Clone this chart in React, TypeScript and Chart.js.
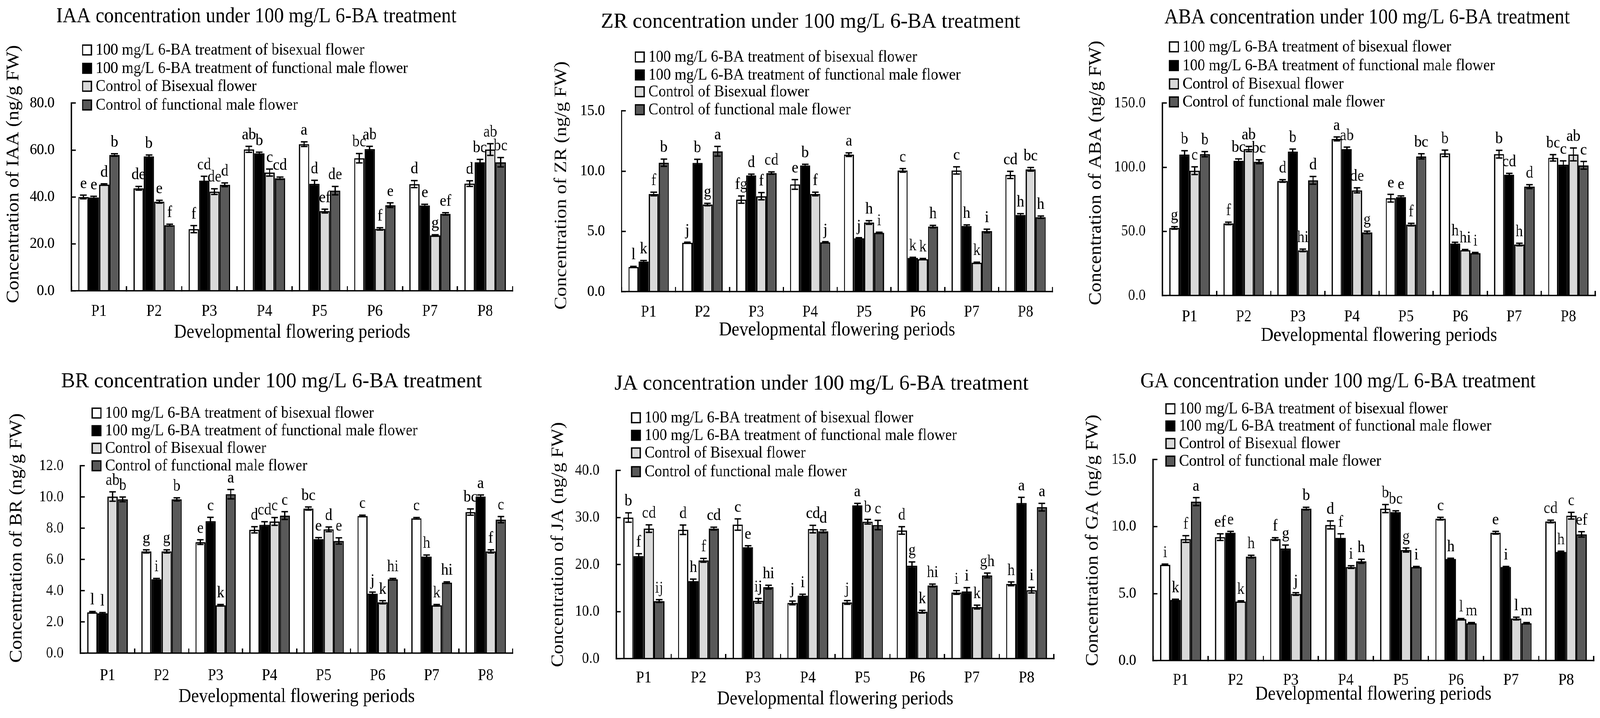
import React, { useEffect, useRef } from 'react';
import { Chart, registerables } from 'chart.js';

Chart.register(...registerables);

const FONT = "'Liberation Serif', 'Times New Roman', serif";
Chart.defaults.font.family = FONT;
Chart.defaults.color = '#000';

// ---------- shared categories / series ----------
const PERIODS = ['P1', 'P2', 'P3', 'P4', 'P5', 'P6', 'P7', 'P8'];
const SERIES_LABELS = [
  '100 mg/L 6-BA treatment of bisexual flower',
  '100 mg/L 6-BA treatment of functional male flower',
  'Control of Bisexual flower',
  'Control of functional male flower',
];
const SERIES_COLORS = ['#ffffff', '#000000', '#d9d9d9', '#595959'];
const X_TITLE = 'Developmental flowering periods';

// ---------- IAA ----------
const IAA_MEANS = [
  [40.0, 43.7, 26.3, 60.3, 62.5, 56.5, 45.5, 45.7],
  [39.8, 57.3, 47.0, 58.6, 45.6, 60.4, 36.4, 54.8],
  [45.3, 38.0, 42.3, 50.4, 34.0, 26.4, 23.6, 60.2],
  [57.9, 28.0, 45.2, 48.0, 42.7, 36.5, 32.8, 54.8],
];
const IAA_ERRORS = [
  [0.8, 0.8, 1.5, 1.3, 1.0, 2.0, 1.5, 1.2],
  [0.5, 0.6, 1.8, 0.5, 1.5, 1.2, 0.5, 1.2],
  [0.3, 0.6, 1.2, 1.5, 0.8, 0.5, 0.3, 2.5],
  [0.5, 0.4, 0.8, 0.5, 1.8, 1.0, 0.5, 2.0],
];
const IAA_LETTERS = [
  ['e', 'de', 'f', 'ab', 'a', 'bc', 'd', 'd'],
  ['e', 'b', 'cd', 'b', 'd', 'ab', 'e', 'bc'],
  ['d', 'e', 'de', 'c', 'ef', 'f', 'g', 'ab'],
  ['b', 'f', 'd', 'cd', 'de', 'e', 'ef', 'bc'],
];
const IAA_Y_MAX = 80;
const IAA_Y_STEP = 20;

// ---------- ZR ----------
const ZR_MEANS = [
  [2.05, 4.06, 7.64, 8.90, 11.37, 10.06, 10.06, 9.69],
  [2.50, 10.68, 9.65, 10.47, 4.43, 2.80, 5.44, 6.37],
  [8.10, 7.23, 7.92, 8.10, 5.74, 2.70, 2.40, 10.15],
  [10.70, 11.65, 9.84, 4.10, 4.88, 5.40, 5.03, 6.18],
];
const ZR_ERRORS = [
  [0.05, 0.05, 0.3, 0.4, 0.15, 0.15, 0.3, 0.3],
  [0.08, 0.3, 0.1, 0.1, 0.05, 0.05, 0.1, 0.1],
  [0.15, 0.1, 0.3, 0.15, 0.15, 0.05, 0.05, 0.15],
  [0.3, 0.4, 0.1, 0.05, 0.05, 0.1, 0.15, 0.1],
];
const ZR_LETTERS = [
  ['l', 'j', 'fg', 'e', 'a', 'c', 'c', 'cd'],
  ['k', 'b', 'd', 'b', 'j', 'k', 'h', 'h'],
  ['f', 'g', 'f', 'f', 'h', 'k', 'k', 'bc'],
  ['b', 'a', 'cd', 'j', 'i', 'h', 'i', 'h'],
];
const ZR_Y_MAX = 15;
const ZR_Y_STEP = 5;

// ---------- ABA ----------
const ABA_MEANS = [
  [52.7, 56.2, 89.3, 122.1, 75.9, 110.8, 110.2, 107.3],
  [109.9, 105.0, 112.2, 114.2, 76.7, 40.5, 94.2, 102.0],
  [97.3, 114.2, 35.2, 82.0, 55.3, 35.4, 39.8, 110.0],
  [110.2, 104.3, 89.8, 49.2, 108.5, 33.1, 84.9, 101.5],
];
const ABA_ERRORS = [
  [1.0, 1.0, 1.0, 1.5, 3.0, 2.5, 3.0, 2.5],
  [3.0, 1.5, 2.0, 1.5, 1.0, 1.0, 1.0, 3.0],
  [3.0, 2.0, 1.0, 2.0, 1.0, 0.5, 1.0, 5.0],
  [2.0, 1.5, 3.0, 1.0, 2.0, 0.5, 1.5, 3.0],
];
const ABA_LETTERS = [
  ['g', 'f', 'd', 'a', 'e', 'b', 'b', 'bc'],
  ['b', 'bc', 'b', 'ab', 'e', 'h', 'cd', 'c'],
  ['c', 'ab', 'hi', 'de', 'f', 'hi', 'h', 'ab'],
  ['b', 'bc', 'd', 'g', 'bc', 'i', 'd', 'c'],
];
const ABA_Y_MAX = 150;
const ABA_Y_STEP = 50;

// ---------- BR ----------
const BR_MEANS = [
  [2.62, 6.52, 7.11, 7.90, 9.26, 8.79, 8.64, 9.04],
  [2.55, 4.74, 8.45, 8.22, 7.30, 3.81, 6.19, 10.03],
  [10.03, 6.52, 3.07, 8.44, 7.93, 3.26, 3.07, 6.52],
  [9.85, 9.85, 10.18, 8.81, 7.19, 4.74, 4.52, 8.55],
];
const BR_ERRORS = [
  [0.05, 0.1, 0.15, 0.2, 0.1, 0.05, 0.05, 0.2],
  [0.05, 0.05, 0.25, 0.2, 0.1, 0.1, 0.1, 0.1],
  [0.3, 0.1, 0.05, 0.25, 0.15, 0.1, 0.05, 0.1],
  [0.15, 0.1, 0.3, 0.25, 0.2, 0.05, 0.05, 0.2],
];
const BR_LETTERS = [
  ['l', 'g', 'e', 'd', 'bc', 'c', 'c', 'bc'],
  ['l', 'i', 'c', 'cd', 'e', 'j', 'h', 'a'],
  ['ab', 'g', 'k', 'c', 'd', 'k', 'k', 'f'],
  ['b', 'b', 'a', 'c', 'e', 'hi', 'hi', 'c'],
];
const BR_Y_MAX = 12;
const BR_Y_STEP = 2;

// ---------- JA ----------
const JA_MEANS = [
  [30.0, 27.4, 28.5, 11.85, 11.95, 27.26, 14.07, 15.9],
  [21.8, 16.5, 23.7, 13.4, 32.6, 19.75, 14.3, 33.1],
  [27.65, 20.9, 12.3, 27.55, 29.1, 9.98, 10.96, 14.57],
  [12.25, 27.65, 15.2, 27.06, 28.4, 15.56, 17.7, 32.2],
];
const JA_ERRORS = [
  [1.0, 1.0, 1.2, 0.4, 0.4, 0.8, 0.4, 0.4],
  [0.5, 0.4, 0.3, 0.3, 0.4, 0.8, 0.8, 1.2],
  [0.8, 0.4, 0.5, 0.8, 0.5, 0.3, 0.4, 0.6],
  [0.3, 0.3, 0.4, 0.3, 1.0, 0.3, 0.5, 0.8],
];
const JA_LETTERS = [
  ['b', 'd', 'c', 'j', 'j', 'd', 'i', 'h'],
  ['f', 'h', 'e', 'i', 'a', 'g', 'i', 'a'],
  ['cd', 'f', 'ij', 'cd', 'b', 'k', 'k', 'i'],
  ['ij', 'cd', 'hi', 'd', 'c', 'hi', 'gh', 'a'],
];
const JA_Y_MAX = 40;
const JA_Y_STEP = 10;

// ---------- GA ----------
const GA_MEANS = [
  [7.15, 9.21, 9.07, 10.12, 11.34, 10.59, 9.54, 10.38],
  [4.53, 9.54, 8.37, 9.16, 11.08, 7.59, 6.98, 8.11],
  [9.07, 4.41, 4.97, 6.98, 8.25, 3.09, 3.14, 10.81],
  [11.86, 7.76, 11.34, 7.41, 6.98, 2.79, 2.79, 9.42],
];
const GA_ERRORS = [
  [0.05, 0.25, 0.1, 0.3, 0.3, 0.1, 0.1, 0.1],
  [0.05, 0.1, 0.25, 0.3, 0.1, 0.05, 0.05, 0.05],
  [0.25, 0.05, 0.1, 0.1, 0.15, 0.05, 0.1, 0.25],
  [0.3, 0.1, 0.1, 0.15, 0.05, 0.05, 0.05, 0.2],
];
const GA_LETTERS = [
  ['i', 'ef', 'f', 'd', 'b', 'c', 'e', 'cd'],
  ['k', 'e', 'g', 'f', 'bc', 'h', 'i', 'h'],
  ['f', 'k', 'j', 'i', 'g', 'l', 'l', 'c'],
  ['a', 'h', 'b', 'h', 'i', 'm', 'm', 'ef'],
];
const GA_Y_MAX = 15;
const GA_Y_STEP = 5;

// ---------- layout (design pixels, 4550 x 1839) ----------
const DESIGN_W = 4550;
const DESIGN_H = 1839;

type Rect = { x: number; y: number; w: number; h: number };
type PanelCfg = {
  key: string;
  hormone: string;
  means: number[][];
  errors: number[][];
  letters: string[][];
  yMax: number;
  yStep: number;
  box: Rect;
  area: { l: number; t: number; r: number; b: number };
  titleSpan: { x: number; y: number; w: number };
  legend: { x: number; rows: number[] };
  yTitle: { x: number; y: number };
  xTitleY: number;
  catY: number;
};

const PANELS: PanelCfg[] = [
  {
    key: 'iaa', hormone: 'IAA', means: IAA_MEANS, errors: IAA_ERRORS, letters: IAA_LETTERS,
    yMax: IAA_Y_MAX, yStep: IAA_Y_STEP,
    box: { x: 0, y: 0, w: 1515, h: 905 },
    area: { l: 203, t: 264, r: 1458, b: 745 },
    titleSpan: { x: 160, y: 43, w: 1138 },
    legend: { x: 235, rows: [128, 175, 221, 269] },
    yTitle: { x: 39, y: 446 },
    xTitleY: 852, catY: 798,
  },
  {
    key: 'zr', hormone: 'ZR', means: ZR_MEANS, errors: ZR_ERRORS, letters: ZR_LETTERS,
    yMax: ZR_Y_MAX, yStep: ZR_Y_STEP,
    box: { x: 1515, y: 0, w: 1505, h: 905 },
    area: { l: 1768, t: 284, r: 2993, b: 747 },
    titleSpan: { x: 1709, y: 57, w: 1192 },
    legend: { x: 1807, rows: [146, 192, 235, 281] },
    yTitle: { x: 1597, y: 475 },
    xTitleY: 846, catY: 800,
  },
  {
    key: 'aba', hormone: 'ABA', means: ABA_MEANS, errors: ABA_ERRORS, letters: ABA_LETTERS,
    yMax: ABA_Y_MAX, yStep: ABA_Y_STEP,
    box: { x: 3020, y: 0, w: 1530, h: 905 },
    area: { l: 3306, t: 264, r: 4537, b: 757 },
    titleSpan: { x: 3311, y: 46, w: 1153 },
    legend: { x: 3326, rows: [120, 168, 215, 261] },
    yTitle: { x: 3117, y: 443 },
    xTitleY: 860, catY: 812,
  },
  {
    key: 'br', hormone: 'BR', means: BR_MEANS, errors: BR_ERRORS, letters: BR_LETTERS,
    yMax: BR_Y_MAX, yStep: BR_Y_STEP,
    box: { x: 0, y: 905, w: 1515, h: 934 },
    area: { l: 229, t: 1193, r: 1458, b: 1673 },
    titleSpan: { x: 174, y: 978, w: 1197 },
    legend: { x: 262, rows: [1058, 1103, 1148, 1193] },
    yTitle: { x: 48, y: 1378 },
    xTitleY: 1785, catY: 1731,
  },
  {
    key: 'ja', hormone: 'JA', means: JA_MEANS, errors: JA_ERRORS, letters: JA_LETTERS,
    yMax: JA_Y_MAX, yStep: JA_Y_STEP,
    box: { x: 1515, y: 905, w: 1505, h: 934 },
    area: { l: 1753, t: 1205, r: 2997, b: 1687 },
    titleSpan: { x: 1748, y: 984, w: 1177 },
    legend: { x: 1796, rows: [1070, 1115, 1160, 1208] },
    yTitle: { x: 1588, y: 1395 },
    xTitleY: 1791, catY: 1737,
  },
  {
    key: 'ga', hormone: 'GA', means: GA_MEANS, errors: GA_ERRORS, letters: GA_LETTERS,
    yMax: GA_Y_MAX, yStep: GA_Y_STEP,
    box: { x: 3020, y: 905, w: 1530, h: 934 },
    area: { l: 3279, t: 1177, r: 4532, b: 1692 },
    titleSpan: { x: 3243, y: 978, w: 1124 },
    legend: { x: 3316, rows: [1047, 1091, 1136, 1181] },
    yTitle: { x: 3108, y: 1384 },
    xTitleY: 1779, catY: 1743,
  },
];

const TICK_SIZE = 40;
const CAT_SIZE = 42;
const AXIS_TITLE_SIZE = 50;
const TITLE_SIZE = 55;
const LEGEND_SIZE = 42;
const LEGEND_TEXT_WIDTH = 888;
const LEGEND_BOX = 25;
const LETTER_SIZE = 42;
const TICK_LEN = -12;
const LINE_W = 3.5;

function makeDecor(cfg: PanelCfg) {
  const { box } = cfg;
  return {
    id: 'decor_' + cfg.key,
    afterDatasetsDraw(chart: any) {
      const ctx: CanvasRenderingContext2D = chart.ctx;
      const yScale = chart.scales.y;
      ctx.save();
      ctx.strokeStyle = '#000';
      ctx.fillStyle = '#000';
      ctx.lineWidth = LINE_W;
      // error bars (mean ± error)
      chart.data.datasets.forEach((_ds: any, i: number) => {
        const meta = chart.getDatasetMeta(i);
        meta.data.forEach((el: any, j: number) => {
          const v = cfg.means[i][j];
          const e = cfg.errors[i][j];
          const p = el.getProps(['x', 'width'], true);
          const yt = yScale.getPixelForValue(v + e);
          const yb = yScale.getPixelForValue(v - e);
          const cw = p.width * 0.65;
          ctx.beginPath();
          ctx.moveTo(p.x, yb);
          ctx.lineTo(p.x, yt);
          ctx.moveTo(p.x - cw / 2, yt);
          ctx.lineTo(p.x + cw / 2, yt);
          ctx.moveTo(p.x - cw / 2, yb);
          ctx.lineTo(p.x + cw / 2, yb);
          ctx.stroke();
        });
      });
      // significance letters
      ctx.font = `${LETTER_SIZE}px ${FONT}`;
      ctx.textAlign = 'center';
      ctx.textBaseline = 'alphabetic';
      chart.data.datasets.forEach((_ds: any, i: number) => {
        const meta = chart.getDatasetMeta(i);
        meta.data.forEach((el: any, j: number) => {
          const v = cfg.means[i][j];
          const e = cfg.errors[i][j];
          const p = el.getProps(['x'], true);
          const yt = yScale.getPixelForValue(v + e);
          ctx.fillText(cfg.letters[i][j], p.x, yt - 18);
        });
      });
      ctx.restore();
    },
    afterDraw(chart: any) {
      const ctx: CanvasRenderingContext2D = chart.ctx;
      ctx.save();
      ctx.fillStyle = '#000';
      // chart title
      const title = `${cfg.hormone} concentration under 100 mg/L 6-BA treatment`;
      ctx.font = `${TITLE_SIZE}px ${FONT}`;
      ctx.textAlign = 'left';
      ctx.textBaseline = 'middle';
      const tw = ctx.measureText(title).width;
      ctx.save();
      ctx.translate(cfg.titleSpan.x - box.x, cfg.titleSpan.y - box.y);
      ctx.scale(cfg.titleSpan.w / tw, 1);
      ctx.fillText(title, 0, 0);
      ctx.restore();
      // legend
      ctx.font = `${LEGEND_SIZE}px ${FONT}`;
      const labels: string[] = chart.data.datasets.map((d: any) => d.label);
      const longest = Math.max(...labels.map((l) => ctx.measureText(l).width));
      const sx = LEGEND_TEXT_WIDTH / longest;
      chart.data.datasets.forEach((d: any, i: number) => {
        const ry = cfg.legend.rows[i] - box.y;
        const lx = cfg.legend.x - box.x;
        ctx.fillStyle = d.backgroundColor;
        ctx.fillRect(lx, ry - LEGEND_BOX / 2, LEGEND_BOX, LEGEND_BOX);
        ctx.strokeStyle = '#000';
        ctx.lineWidth = LINE_W;
        ctx.strokeRect(lx, ry - LEGEND_BOX / 2, LEGEND_BOX, LEGEND_BOX);
        ctx.fillStyle = '#000';
        ctx.save();
        ctx.translate(lx + 37, ry + 1);
        ctx.scale(sx, 1);
        ctx.fillText(d.label, 0, 0);
        ctx.restore();
      });
      // y axis title
      ctx.font = `${AXIS_TITLE_SIZE}px ${FONT}`;
      ctx.textAlign = 'center';
      ctx.textBaseline = 'middle';
      ctx.translate(cfg.yTitle.x - box.x, cfg.yTitle.y - box.y);
      ctx.rotate(-Math.PI / 2);
      ctx.fillText(`Concentration of ${cfg.hormone} (ng/g FW)`, 0, 0);
      ctx.restore();
    },
  };
}

function Panel({ cfg }: { cfg: PanelCfg }) {
  const ref = useRef<HTMLCanvasElement>(null);
  useEffect(() => {
    const canvas = ref.current;
    if (!canvas) return;
    const { box, area } = cfg;
    const L = area.l - box.x;
    const T = area.t - box.y;
    const R = area.r - box.x;
    const B = area.b - box.y;
    const xTitlePad = box.h - (cfg.xTitleY - box.y) - (AXIS_TITLE_SIZE * 1.2) / 2;
    const catPad = cfg.catY - area.b - TICK_LEN - (CAT_SIZE * 1.2) / 2;
    const chart = new Chart(canvas, {
      type: 'bar',
      data: {
        labels: PERIODS,
        datasets: SERIES_LABELS.map((label, i) => ({
          label,
          data: cfg.means[i],
          backgroundColor: SERIES_COLORS[i],
          borderColor: '#000',
          borderWidth: LINE_W,
          categoryPercentage: 0.75,
          barPercentage: 1.0,
        })),
      },
      options: {
        responsive: false,
        animation: false,
        devicePixelRatio: 1,
        layout: { padding: { left: 0, top: T, right: box.w - R, bottom: 0 } },
        plugins: {
          legend: { display: false },
          title: { display: false },
          tooltip: { enabled: false },
        },
        scales: {
          x: {
            offset: true,
            grid: {
              offset: true,
              drawOnChartArea: false,
              drawTicks: true,
              tickLength: TICK_LEN,
              color: '#000',
              lineWidth: LINE_W,
            },
            border: { display: true, color: '#000', width: LINE_W },
            ticks: {
              font: { family: FONT, size: CAT_SIZE, lineHeight: 1.2 },
              color: '#000',
              padding: catPad,
              maxRotation: 0,
              autoSkip: false,
            },
            title: {
              display: true,
              text: X_TITLE,
              font: { family: FONT, size: AXIS_TITLE_SIZE, lineHeight: 1.2 },
              color: '#000',
              padding: { top: 0, bottom: xTitlePad },
            },
            afterFit: (s: any) => {
              s.height = box.h - B;
            },
          },
          y: {
            min: 0,
            max: cfg.yMax,
            grid: {
              drawOnChartArea: false,
              drawTicks: true,
              tickLength: TICK_LEN,
              color: '#000',
              lineWidth: LINE_W,
            },
            border: { display: true, color: '#000', width: LINE_W },
            ticks: {
              stepSize: cfg.yStep,
              font: { family: FONT, size: TICK_SIZE },
              color: '#000',
              padding: 48 - TICK_LEN,
              callback: (v: any) => Number(v).toFixed(1),
            },
            afterFit: (s: any) => {
              s.width = L;
            },
          },
        },
      } as any,
      plugins: [makeDecor(cfg)],
    });
    return () => chart.destroy();
  }, [cfg]);
  return (
    <canvas
      ref={ref}
      width={cfg.box.w}
      height={cfg.box.h}
      style={{
        position: 'absolute',
        left: cfg.box.x,
        top: cfg.box.y,
        width: cfg.box.w,
        height: cfg.box.h,
      }}
    />
  );
}

export default function App() {
  // The browser viewport can be narrower than the design; fit the whole figure into it.
  const vw = typeof window !== 'undefined' ? window.innerWidth : DESIGN_W;
  const vh = typeof window !== 'undefined' ? window.innerHeight : DESIGN_H;
  const sx = Math.min(1, vw / DESIGN_W);
  const sy = Math.min(1, vh / DESIGN_H);
  return (
    <div
      style={{
        position: 'absolute',
        left: 0,
        top: 0,
        width: DESIGN_W,
        height: DESIGN_H,
        background: '#ffffff',
        overflow: 'hidden',
        transform: `scale(${sx}, ${sy})`,
        transformOrigin: '0 0',
      }}
    >
      {PANELS.map((p) => (
        <Panel key={p.key} cfg={p} />
      ))}
    </div>
  );
}
